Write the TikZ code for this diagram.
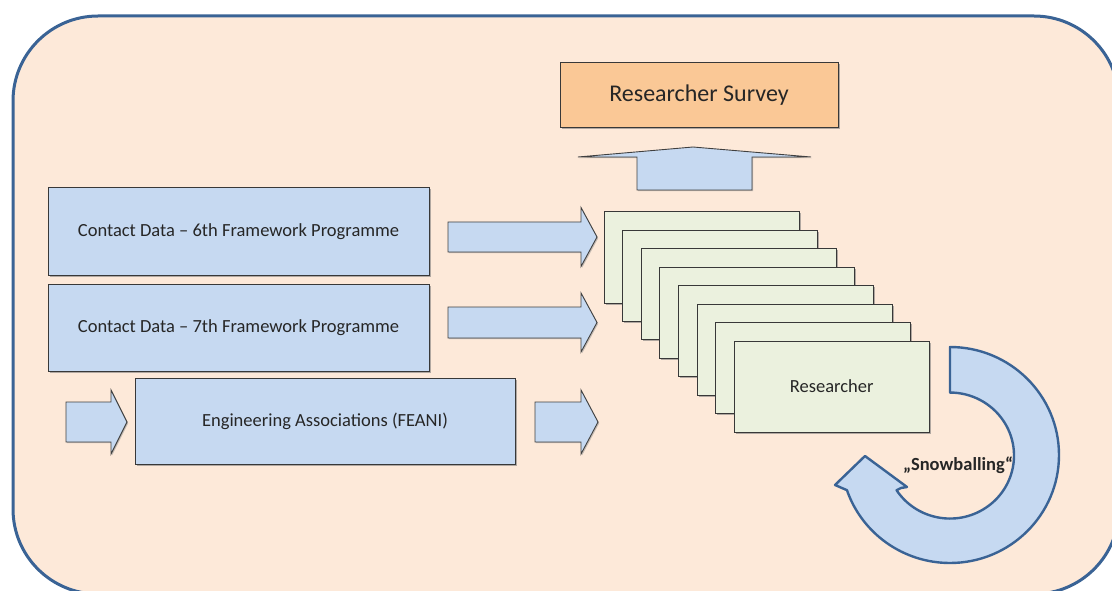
\documentclass[tikz,border=0pt]{standalone}
\usepackage{fontspec}
\setmainfont{Carlito}
\usetikzlibrary{shadows}
\definecolor{bgpeach}{HTML}{FDE9D9}
\definecolor{frameblue}{HTML}{3A6395}
\definecolor{boxblue}{HTML}{C6D9F1}
\definecolor{surveyorange}{HTML}{FAC896}
\definecolor{cardgreen}{HTML}{EBF1DE}
\definecolor{txt}{HTML}{262626}
\newcommand\rblock[6]{% start x, neck x, tip x, centre y, shaft half, head half
  \filldraw[blockarrow] (#1,#4-#5) -- (#2,#4-#5) -- (#2,#4-#6) -- (#3,#4) -- (#2,#4+#6) -- (#2,#4+#5) -- (#1,#4+#5) -- cycle;}
\begin{document}
\begin{tikzpicture}[x=1pt,y=-1pt,
  panel/.style={draw=black!78, line width=1pt, inner sep=0pt, text=txt,
    drop shadow={shadow xshift=1.5pt, shadow yshift=-1.5pt, fill=black!55, opacity=0.55}},
  bluebox/.style={panel, fill=boxblue, minimum width=381pt, minimum height=87pt, font=\fontsize{18.5}{22}\selectfont},
  surveybox/.style={panel, fill=surveyorange, minimum width=278pt, minimum height=65pt, font=\fontsize{24}{28}\selectfont},
  cardbox/.style={panel, fill=cardgreen, minimum width=195pt, minimum height=91pt, font=\fontsize{18.5}{22}\selectfont},
  blockarrow/.style={draw=black!75, fill=boxblue, line width=0.9pt,
    drop shadow={shadow xshift=1.2pt, shadow yshift=-1.2pt, fill=black!45, opacity=0.5}},
  ringarrow/.style={draw=frameblue, fill=boxblue, line width=2.4pt, line join=round},
  frame/.style={draw=frameblue, fill=bgpeach, line width=3pt, rounded corners=85pt}
]
\useasboundingbox (0,0) rectangle (1112,591);
\clip (0,0) rectangle (1112,591);
\path[frame] (13,16) rectangle (1119,594);

% researcher survey and upward arrow
\node[surveybox] (survey) at (699,95.5) {Researcher Survey};
\filldraw[blockarrow] (637,190) -- (637,157) -- (578,157) -- (693,147) -- (811,157) -- (752,157) -- (752,190) -- cycle;

% source boxes
\node[bluebox] (c6) at (238.5,231.5) {Contact Data -- 6th Framework Programme};
\node[bluebox] (c7) at (238.5,327.5) {Contact Data -- 7th Framework Programme};
\node[bluebox, minimum width=380pt, minimum height=86pt] (feani) at (325,421) {Engineering Associations (FEANI)};

% block arrows
\rblock{448}{581}{597}{237}{15}{29.5}
\rblock{448}{581}{597}{322.5}{15.5}{29.5}
\rblock{66}{111}{127}{422}{20}{32}
\rblock{535}{581}{598}{422}{20}{32}

% researcher cards
\foreach \i in {0,...,6} {
  \node[cardbox] (card\i) at ({701.5+18.6*\i},{257.5+18.43*\i}) {};
}
\node[cardbox] (card7) at (831.7,386.5) {Researcher};

% snowballing circular arrow
\coordinate (ringc) at (950,455);
\filldraw[ringarrow] (950,347) arc[start angle=270, end angle=521, x radius=109, y radius=108]
  -- (835,485) -- (865,456) -- (907,487) -- (901,488)
  -- ([shift={(950,455)}]146.6:64) arc[start angle=506.6, end angle=270, x radius=64, y radius=63]
  -- cycle;
\node[font=\bfseries\fontsize{18.5}{22}\selectfont, text=txt] (snow) at (958,465) {„Snowballing“};
\end{tikzpicture}
\end{document}
